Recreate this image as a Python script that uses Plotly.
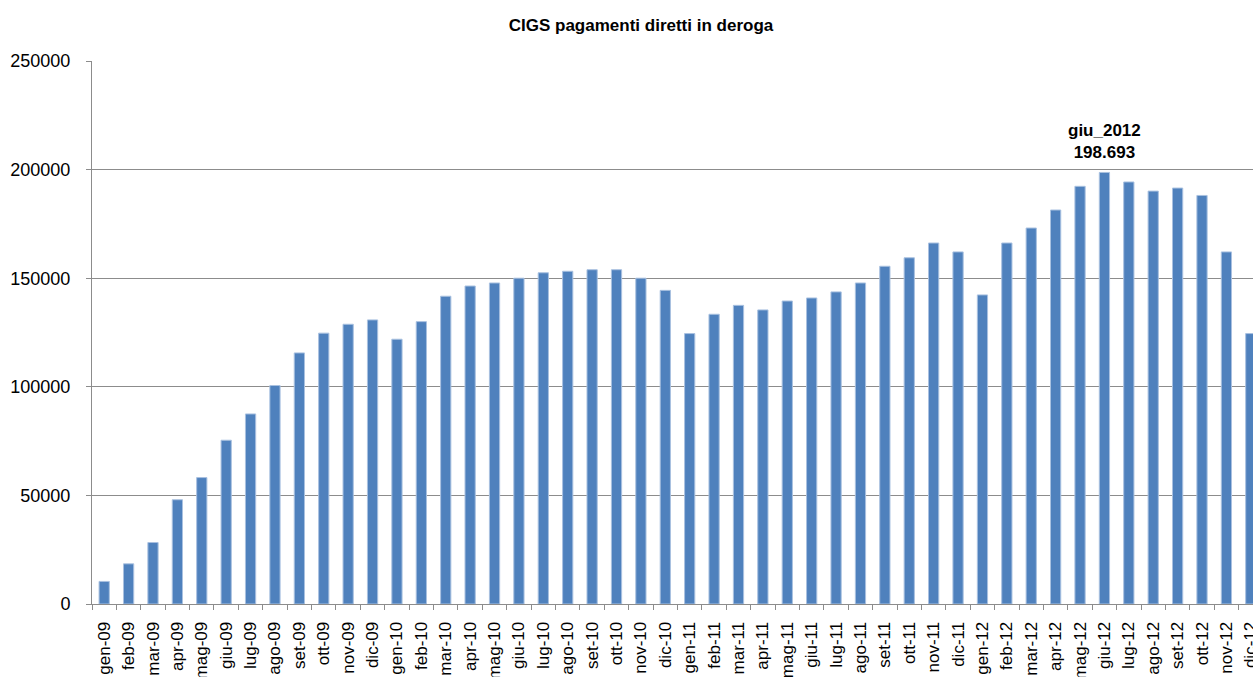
import plotly.graph_objects as go

months = ["gen", "feb", "mar", "apr", "mag", "giu", "lug", "ago", "set", "ott", "nov", "dic"]
years = ["09", "10", "11", "12"]
categories = [f"{m}-{y}" for y in years for m in months]

values = [
    10400, 18500, 28300, 48000, 58200, 75400, 87500, 100600, 115600, 124700, 128800, 130800,
    121900, 130000, 141700, 146400, 147800, 150000, 152500, 153200, 153900, 153900, 150000, 144400,
    124500, 133400, 137500, 135400, 139500, 140900, 143700, 147800, 155500, 159400, 166200, 162100,
    142300, 166200, 173100, 181400, 192300, 198693, 194300, 190100, 191500, 188100, 162100, 124500,
]

title_text = "CIGS pagamenti diretti in deroga"
peak_cat = "giu-12"
peak_label = "<b>giu_2012</b><br><b>198.693</b>"
y_ticks = [0, 50000, 100000, 150000, 200000, 250000]

FONT = "Liberation Sans"
GRID = "#8c8c8c"

fig = go.Figure()
fig.add_trace(go.Bar(
    x=categories, y=values,
    width=0.42,
    marker=dict(color="#4F81BD", line=dict(color="#A9C1E0", width=1)),
    showlegend=False,
    cliponaxis=True,
))

fig.add_annotation(
    x=peak_cat, y=values[categories.index(peak_cat)],
    text=peak_label, showarrow=False,
    yanchor="bottom", yshift=8,
    font=dict(family=FONT, size=17, color="black"),
    align="center",
)

fig.update_layout(
    width=1253, height=677,
    margin=dict(l=92, r=0, t=61, b=73, autoexpand=False),
    paper_bgcolor="white", plot_bgcolor="white",
    title=dict(text="<b>" + title_text + "</b>", x=641 / 1253, xanchor="center",
               y=1 - 25 / 677, yanchor="middle", automargin=False,
               font=dict(family=FONT, size=17, color="black")),
)

fig.update_xaxes(
    type="category",
    range=[-0.5, 47.09],
    automargin=False,
    showline=True, linecolor=GRID, linewidth=1,
    ticks="outside", tickson="boundaries", ticklen=5, tickcolor=GRID,
    tickangle=-90,
    tickfont=dict(family=FONT, size=17, color="black"),
    ticklabelstandoff=10,
    showgrid=False,
)
fig.update_yaxes(
    range=[0, 250000],
    automargin=False,
    tickvals=y_ticks, ticktext=[str(v) for v in y_ticks],
    showline=True, linecolor=GRID, linewidth=1,
    ticks="outside", ticklen=5, tickcolor=GRID,
    showgrid=True, gridcolor=GRID, gridwidth=1,
    tickfont=dict(family=FONT, size=18, color="black"),
    ticklabelstandoff=12,
    zeroline=False,
)

fig.write_html(
    "out.html",
    config={"displayModeBar": False},
    post_script="document.body.style.margin='0';document.body.style.overflow='hidden';",
)
